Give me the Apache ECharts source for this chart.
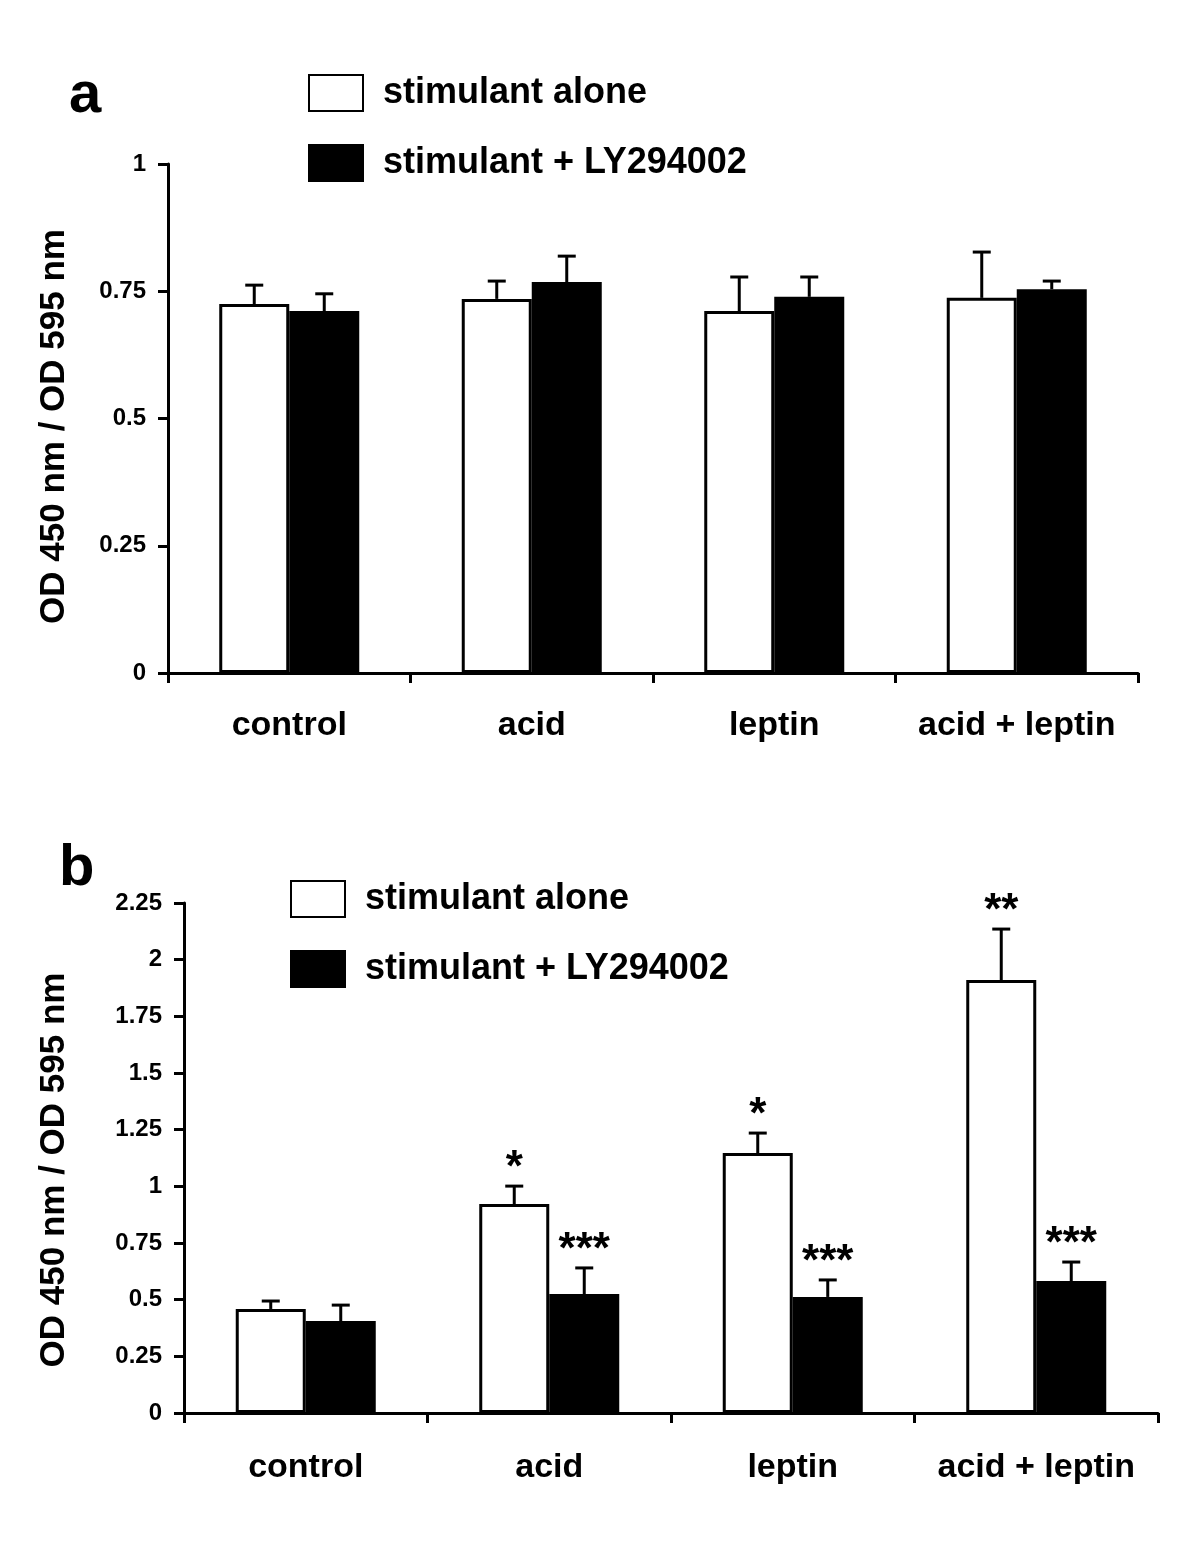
<!DOCTYPE html>
<html>
<head>
<meta charset="utf-8">
<script src="https://cdn.jsdelivr.net/npm/echarts@6/dist/echarts.min.js"></script>
<style>
  html, body { margin: 0; padding: 0; background: #fff; }
  #chart { width: 1200px; height: 1543px; }
</style>
</head>
<body>
<div id="chart"></div>
<script>
// categories and series names
const categories = ['control', 'acid', 'leptin', 'acid + leptin'];
const seriesNames = ['stimulant alone', 'stimulant + LY294002'];

// panel a: means and error (SD)
const aloneA = [0.725, 0.735, 0.711, 0.737];
const aloneErrA = [0.037, 0.035, 0.067, 0.090];
const lyA = [0.711, 0.768, 0.739, 0.754];
const lyErrA = [0.034, 0.051, 0.039, 0.016];

// panel b: means, error and significance marks
const aloneB = [0.459, 0.922, 1.147, 1.910];
const aloneErrB = [0.035, 0.079, 0.088, 0.225];
const lyB = [0.406, 0.525, 0.512, 0.582];
const lyErrB = [0.070, 0.115, 0.075, 0.084];
const aloneMarksB = ['', '*', '*', '**'];
const lyMarksB = ['', '***', '***', '***'];

// y axis ranges
const yMaxA = 1;
const yMaxB = 2.25;
const yStep = 0.25;

const FONT = '"Liberation Sans", Arial, sans-serif';
const BAR_W = 70;
const yTitle = 'OD 450 nm / OD 595 nm';

const chart = echarts.init(document.getElementById('chart'));

// 误差线 + 显著性标记
function errorSeries(gridIdx, means, errs, marks, shift) {
  return {
    type: 'custom',
    name: 'err' + gridIdx + shift,
    xAxisIndex: gridIdx,
    yAxisIndex: gridIdx,
    z: 5,
    silent: true,
    data: means.map((m, i) => [i, m, m + errs[i]]),
    encode: { x: 0, y: [1, 2] },
    renderItem(params, api) {
      const base = api.coord([api.value(0), api.value(1)]);
      const top = api.coord([api.value(0), api.value(2)]);
      const x = base[0] + shift;
      const children = [
        { type: 'line', shape: { x1: x, y1: base[1], x2: x, y2: top[1] }, style: { stroke: '#000', lineWidth: 3 } },
        { type: 'line', shape: { x1: x - 9, y1: top[1], x2: x + 9, y2: top[1] }, style: { stroke: '#000', lineWidth: 3 } }
      ];
      const mark = marks ? marks[params.dataIndex] : '';
      if (mark) {
        children.push({
          type: 'text',
          style: {
            text: mark, x: x, y: top[1] + 5, align: 'center', verticalAlign: 'bottom',
            font: 'bold 44px ' + FONT, fill: '#000'
          }
        });
      }
      return { type: 'group', children };
    }
  };
}

function barSeries(name, gridIdx, values, color) {
  return {
    type: 'bar',
    name,
    xAxisIndex: gridIdx,
    yAxisIndex: gridIdx,
    barWidth: BAR_W,
    barGap: '0%',
    data: values,
    itemStyle: { color, borderColor: '#000', borderWidth: 3 }
  };
}

function xAxis(gridIdx, margin) {
  return {
    type: 'category',
    gridIndex: gridIdx,
    data: categories,
    boundaryGap: true,
    axisLine: { show: true, lineStyle: { color: '#000', width: 3 } },
    axisTick: { show: true, inside: false, interval: 0, alignWithLabel: false, length: 10, lineStyle: { color: '#000', width: 3 } },
    axisLabel: { interval: 0, color: '#000', fontSize: 34, fontWeight: 'bold', fontFamily: FONT, margin }
  };
}

function yAxis(gridIdx, max, gap, shift) {
  return {
    type: 'value',
    gridIndex: gridIdx,
    min: 0,
    max,
    interval: yStep,
    name: yTitle,
    nameLocation: 'middle',
    nameGap: gap,
    nameTextStyle: { color: '#000', fontSize: 35, fontWeight: 'bold', fontFamily: FONT, padding: [0, shift, 0, 0] },
    axisLine: { show: true, lineStyle: { color: '#000', width: 3 } },
    axisTick: { show: true, length: 10, lineStyle: { color: '#000', width: 3 } },
    axisLabel: { color: '#000', fontSize: 24, fontWeight: 'bold', fontFamily: FONT, margin: 22 },
    splitLine: { show: false }
  };
}

function legend(left, top) {
  return {
    left, top,
    padding: 0,
    orient: 'vertical',
    data: seriesNames,
    icon: 'rect',
    itemWidth: 54,
    itemHeight: 36,
    itemGap: 32,
    selectedMode: false,
    textStyle: { color: '#000', fontSize: 36, fontWeight: 'bold', fontFamily: FONT, padding: [0, 0, 0, 15] }
  };
}

chart.setOption({
  backgroundColor: '#fff',
  animation: false,
  title: [
    { text: 'a', left: 64, top: 62, textStyle: { fontSize: 58, fontWeight: 'bold', fontFamily: FONT, color: '#000' } },
    { text: 'b', left: 54, top: 835, textStyle: { fontSize: 58, fontWeight: 'bold', fontFamily: FONT, color: '#000' } }
  ],
  legend: [legend(308, 74), legend(290, 880)],
  grid: [
    { left: 168, top: 164, width: 970, height: 509 },
    { left: 184, top: 903, width: 974, height: 510 }
  ],
  xAxis: [xAxis(0, 36), xAxis(1, 38)],
  yAxis: [yAxis(0, yMaxA, 96, 16), yAxis(1, yMaxB, 112, 24)],
  series: [
    barSeries(seriesNames[0], 0, aloneA, '#fff'),
    barSeries(seriesNames[1], 0, lyA, '#000'),
    errorSeries(0, aloneA, aloneErrA, null, -BAR_W / 2),
    errorSeries(0, lyA, lyErrA, null, BAR_W / 2),
    barSeries(seriesNames[0], 1, aloneB, '#fff'),
    barSeries(seriesNames[1], 1, lyB, '#000'),
    errorSeries(1, aloneB, aloneErrB, aloneMarksB, -BAR_W / 2),
    errorSeries(1, lyB, lyErrB, lyMarksB, BAR_W / 2)
  ]
});

window.addEventListener('resize', () => chart.resize());
</script>
</body>
</html>
